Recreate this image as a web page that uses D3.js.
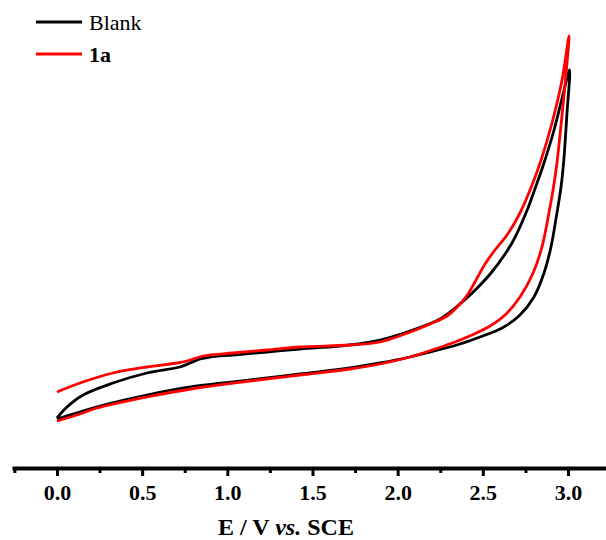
<!DOCTYPE html>
<html>
<head>
<meta charset="utf-8">
<script src="https://cdn.jsdelivr.net/npm/d3@7"></script>
<style>
  body { margin: 0; background: #fff; }
  svg { display: block; font-family: "Liberation Serif", "Times New Roman", serif; }
</style>
</head>
<body>
<svg id="chart" width="606" height="540"></svg>
<script>
// cyclic voltammogram, Blank vs 1a
// each scan: forward (lower) branch 0 -> 3.0 V, then reverse (upper) branch back to 0
const blankPotential = [
  0.000, 0.135, 0.252, 0.528, 0.822, 1.133, 1.427, 1.720, 1.896, 2.072, 2.237, 2.366, 2.483,
  2.613, 2.718, 2.800, 2.859, 2.900, 2.935, 2.959, 2.974, 2.994, 3.009,
  2.977, 2.918, 2.859, 2.812, 2.753, 2.671, 2.548, 2.425, 2.337, 2.249, 2.090, 1.896, 1.720,
  1.427, 1.233, 1.033, 0.898, 0.840, 0.781, 0.722, 0.528, 0.329, 0.153, 0.059, 0.000
];
const blankCurrent = [
  5.25, 7.0, 8.5, 11.25, 13.5, 15.0, 16.5, 18.0, 19.25, 20.75, 22.5, 24.0, 25.75,
  28.0, 31.25, 35.75, 41.75, 48.25, 56.75, 63.25, 69.25, 81.75, 92.5,
  87.5, 77.5, 69.25, 63.5, 56.75, 49.25, 41.75, 36.25, 33.0, 30.25, 27.5, 25.0, 23.75,
  22.75, 22.0, 21.25, 20.75, 20.25, 19.25, 18.25, 16.75, 14.25, 11.25, 8.25, 5.5
];

const redPotential = [
  0.000, 0.135, 0.235, 0.528, 0.822, 1.133, 1.427, 1.720, 1.896, 2.072, 2.219, 2.337, 2.436,
  2.542, 2.630, 2.718, 2.795, 2.847, 2.888, 2.915, 2.935, 2.962, 2.985, 3.006,
  2.965, 2.906, 2.842, 2.789, 2.718, 2.642, 2.571, 2.513, 2.460, 2.413, 2.366, 2.290, 2.190,
  2.090, 1.896, 1.720, 1.427, 1.233, 1.033, 0.857, 0.763, 0.705, 0.528, 0.329, 0.135, 0.000
];
const redCurrent = [
  4.75, 6.5, 8.0, 10.75, 13.0, 14.75, 16.25, 17.75, 19.0, 20.75, 22.75, 24.5, 26.25,
  28.5, 31.25, 35.75, 41.75, 48.25, 56.75, 63.25, 69.25, 80.0, 90.0, 101.0,
  90.0, 79.25, 70.0, 63.75, 56.75, 51.25, 47.5, 44.0, 40.0, 36.5, 34.0, 31.0, 29.0,
  27.25, 24.5, 23.75, 23.25, 22.5, 21.75, 21.0, 19.75, 19.25, 18.25, 16.75, 14.25, 12.0
];

const majorTicks = [0, 0.5, 1.0, 1.5, 2.0, 2.5, 3.0];
const minorTicks = [-0.25, 0.25, 0.75, 1.25, 1.75, 2.25, 2.75];
const seriesNames = ['Blank', '1a'];
const seriesColors = ['#000000', '#ff0000'];

const svg = d3.select('#chart');
const axisY = 468;

const x = d3.scaleLinear().domain([-0.264, 3.223]).range([12, 606]);
const y = d3.scaleLinear().domain([0, 100]).range([440, 40]);

const series = [
  blankPotential.map((v, i) => ({ v, c: blankCurrent[i] })),
  redPotential.map((v, i) => ({ v, c: redCurrent[i] }))
];

const line = d3.line()
  .x(d => x(d.v))
  .y(d => y(d.c))
  .curve(d3.curveCatmullRom.alpha(0.5));

series.forEach((s, i) => {
  svg.append('path')
    .datum(s)
    .attr('d', line)
    .attr('fill', 'none')
    .attr('stroke', seriesColors[i])
    .attr('stroke-width', 2.8)
    .attr('stroke-linejoin', 'round');
});

// minor ticks first, major axis on top
const minorAxis = svg.append('g')
  .attr('transform', `translate(0,${axisY})`)
  .call(d3.axisBottom(x).tickValues(minorTicks).tickSize(5).tickSizeOuter(0).tickFormat(''));
minorAxis.select('.domain').remove();
minorAxis.selectAll('line').attr('stroke', '#000').attr('stroke-width', 3);

const xAxis = svg.append('g')
  .attr('transform', `translate(0,${axisY})`)
  .call(d3.axisBottom(x).tickValues(majorTicks).tickSize(8).tickSizeOuter(0).tickFormat(d3.format('.1f')));
xAxis.select('.domain').attr('stroke', '#000').attr('stroke-width', 4);
xAxis.selectAll('line').attr('stroke', '#000').attr('stroke-width', 3);
xAxis.selectAll('text')
  .attr('y', 32)
  .attr('dy', 0)
  .attr('fill', '#000')
  .style('font-family', '"Liberation Serif", serif')
  .style('font-size', '22px')
  .style('font-weight', 'bold');

// axis title
const title = svg.append('text')
  .attr('x', 286).attr('y', 535)
  .attr('text-anchor', 'middle')
  .style('font-size', '24px')
  .style('font-weight', 'bold');
title.append('tspan').text('E / V ');
title.append('tspan').style('font-style', 'italic').text('vs.');
title.append('tspan').text(' SCE');

// legend
const legend = svg.append('g');
seriesNames.forEach((name, i) => {
  const ly = 22 + i * 32;
  legend.append('line')
    .attr('x1', 36).attr('x2', 82).attr('y1', ly).attr('y2', ly)
    .attr('stroke', seriesColors[i]).attr('stroke-width', 3);
  legend.append('text')
    .attr('x', 89).attr('y', ly + 8)
    .style('font-size', '22px')
    .style('font-weight', i === 1 ? 'bold' : 'normal')
    .text(name);
});
</script>
</body>
</html>
